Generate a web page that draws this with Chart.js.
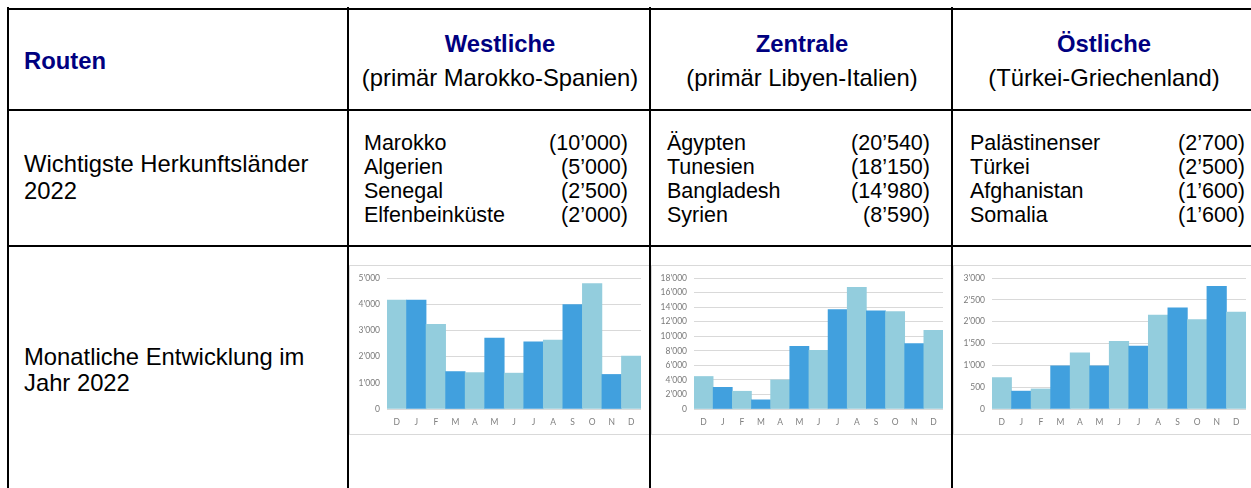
<!DOCTYPE html>
<html>
<head>
<meta charset="utf-8">
<script src="https://cdn.jsdelivr.net/npm/chart.js@4.4.1/dist/chart.umd.min.js"></script>
<style>
    body { margin: 0; background: #fff; width: 1251px; height: 488px; overflow: hidden; position: relative;
           font-family: "Liberation Sans", Arial, sans-serif; color: #000; }
    .hl { position: absolute; left: 7px; width: 1260px; height: 2px; background: #000; z-index: 5; }
    .vl { position: absolute; top: 7px; height: 500px; width: 2px; background: #000; z-index: 5; }
    .txt { position: absolute; font-size: 23.8px; white-space: nowrap; }
    .head { position: absolute; text-align: center; width: 302px; white-space: nowrap; }
    .head b { display: block; color: #000080; font-size: 23.8px; line-height: 28px; }
    .head span { display: block; font-size: 23.8px; line-height: 28px; margin-top: 6px; }
    .list { position: absolute; font-size: 21.5px; line-height: 24px; }
    .list div { display: flex; justify-content: space-between; white-space: nowrap; }
    .box { position: absolute; top: 265px; width: 300px; height: 168px; border: 1px solid #d9d9d9; }
    .box canvas { display: block; }
</style>
</head>
<body>
<div class="hl" style="top:8px"></div>
<div class="hl" style="top:109px"></div>
<div class="hl" style="top:245px"></div>
<div class="vl" style="left:7px"></div>
<div class="vl" style="left:347px"></div>
<div class="vl" style="left:649px"></div>
<div class="vl" style="left:951px"></div>

<div class="txt" style="left:24px;top:47px;line-height:28px;color:#000080;font-weight:bold">Routen</div>
<div class="head" style="left:349px;top:30px"><b>Westliche</b><span>(primär Marokko-Spanien)</span></div>
<div class="head" style="left:651px;top:30px"><b>Zentrale</b><span>(primär Libyen-Italien)</span></div>
<div class="head" style="left:953px;top:30px"><b>Östliche</b><span>(Türkei-Griechenland)</span></div>

<div class="txt" style="left:24px;top:150px;line-height:27px">Wichtigste Herkunftsländer<br>2022</div>
<div class="list" id="list0" style="left:364px;top:131px;width:264px"></div>
<div class="list" id="list1" style="left:667px;top:131px;width:263px"></div>
<div class="list" id="list2" style="left:970px;top:131px;width:275px"></div>

<div class="txt" style="left:24px;top:344px;line-height:26px">Monatliche Entwicklung im<br>Jahr 2022</div>
<div class="box" style="left:349px"><canvas id="c0" width="300" height="168"></canvas></div>
<div class="box" style="left:651px"><canvas id="c1" width="300" height="168"></canvas></div>
<div class="box" style="left:953px"><canvas id="c2" width="300" height="168"></canvas></div>

<script>
// origin countries per route
const westCountries = ['Marokko', 'Algerien', 'Senegal', 'Elfenbeinküste'];
const westCounts = ['10’000', '5’000', '2’500', '2’000'];
const centralCountries = ['Ägypten', 'Tunesien', 'Bangladesh', 'Syrien'];
const centralCounts = ['20’540', '18’150', '14’980', '8’590'];
const eastCountries = ['Palästinenser', 'Türkei', 'Afghanistan', 'Somalia'];
const eastCounts = ['2’700', '2’500', '1’600', '1’600'];

// monthly arrivals, Dec 2021 .. Dec 2022
const months = ['D', 'J', 'F', 'M', 'A', 'M', 'J', 'J', 'A', 'S', 'O', 'N', 'D'];
const westValues = [4160, 4160, 3230, 1430, 1390, 2710, 1370, 2570, 2630, 3990, 4790, 1320, 2020];
const centralValues = [4470, 2980, 2440, 1260, 4010, 8620, 8070, 13670, 16730, 13490, 13400, 8980, 10830];
const eastValues = [720, 410, 460, 990, 1290, 990, 1550, 1440, 2150, 2320, 2050, 2810, 2220];

const westTicks = [0, 1000, 2000, 3000, 4000, 5000];
const centralTicks = [0, 2000, 4000, 6000, 8000, 10000, 12000, 14000, 16000, 18000];
const eastTicks = [0, 500, 1000, 1500, 2000, 2500, 3000];

function fillList(id, names, counts) {
    const el = document.getElementById(id);
    names.forEach((n, i) => {
        const row = document.createElement('div');
        row.innerHTML = `<span>${n}</span><span>(${counts[i]})</span>`;
        el.appendChild(row);
    });
}
fillList('list0', westCountries, westCounts);
fillList('list1', centralCountries, centralCounts);
fillList('list2', eastCountries, eastCounts);

const fmt = v => String(v).replace(/\B(?=(\d{3})+(?!\d))/g, "'");
const tickFont = { family: 'Lato, "Open Sans", sans-serif', size: 8.5 };

function makeChart(id, values, ticks, axisWidth, padRight) {
    new Chart(document.getElementById(id), {
        type: 'bar',
        data: {
            labels: months,
            datasets: [{
                data: values,
                backgroundColor: values.map((v, i) => i % 2 ? '#41A0DE' : '#93CDDD'),
                borderWidth: 0,
                categoryPercentage: 1,
                barPercentage: 1
            }]
        },
        options: {
            responsive: false,
            animation: false,
            layout: { padding: { top: 10, right: padRight, left: 0, bottom: 0 } },
            plugins: { legend: { display: false }, tooltip: { enabled: false } },
            scales: {
                x: {
                    grid: { display: false, drawTicks: false },
                    border: { display: false },
                    ticks: { color: '#808080', font: tickFont, padding: 8, maxRotation: 0 },
                    afterFit: s => { s.height = 25; }
                },
                y: {
                    min: 0,
                    max: ticks[ticks.length - 1],
                    afterBuildTicks: s => { s.ticks = ticks.map(v => ({ value: v })); },
                    grid: { color: '#d9d9d9', drawTicks: false },
                    border: { display: false },
                    ticks: { color: '#7a7a7a', font: tickFont, padding: 7, callback: fmt },
                    afterFit: s => { s.width = axisWidth; }
                }
            }
        }
    });
}

makeChart('c0', westValues, westTicks, 37, 9);
makeChart('c1', centralValues, centralTicks, 42, 9);
makeChart('c2', eastValues, eastTicks, 38, 8);
</script>
</body>
</html>
